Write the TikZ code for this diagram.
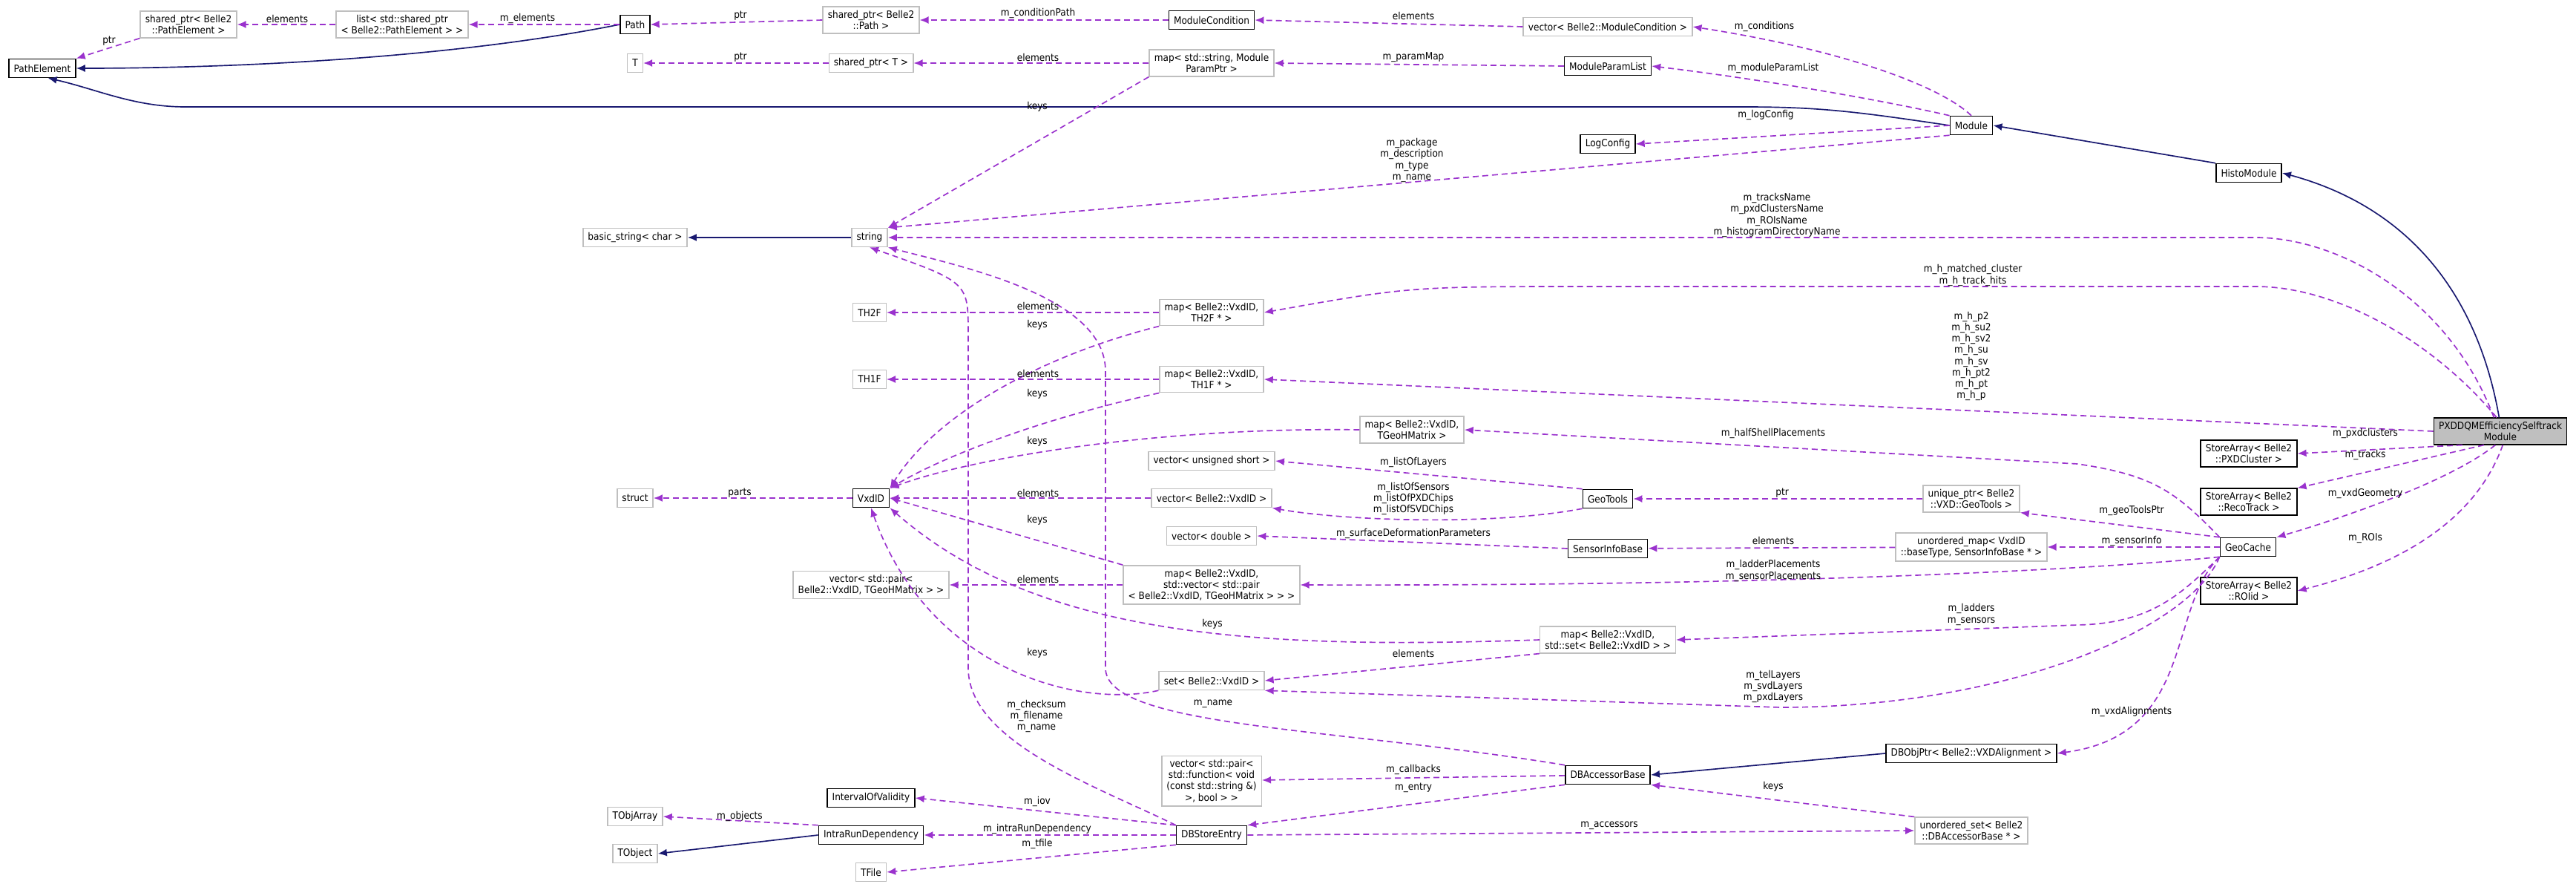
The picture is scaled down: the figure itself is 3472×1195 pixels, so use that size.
\documentclass[tikz,border=0pt]{standalone}
\usepackage{fontspec}
\setmainfont{DejaVu Sans Condensed}
\usepackage{tikz}
\usetikzlibrary{arrows.meta}
\definecolor{depcol}{RGB}{154,50,205}
\definecolor{inhcol}{RGB}{25,25,112}
\definecolor{extcol}{RGB}{191,191,191}
\tikzset{
cls/.style={draw=black, fill=white, line width=0.45mm, font=\fontsize{11.5}{13}\selectfont, align=center, inner xsep=2mm, inner ysep=1.5mm, minimum height=7.5mm},
ext/.style={cls, draw=extcol},
dep/.style={draw=depcol, line width=0.5mm, dash pattern=on 2.4mm off 1.5mm, -{Latex[length=3.6mm,width=3mm]}},
inh/.style={draw=inhcol, line width=0.5mm, -{Latex[length=3.6mm,width=3mm]}},
lbl/.style={font=\fontsize{11.5}{13}\selectfont, align=center, inner sep=0pt}
}

\begin{document}
\begin{tikzpicture}[x=0.3mm,y=-0.3mm]
\useasboundingbox (0,0) rectangle (3472,1195);

% classes
\node[cls] (pathelem) at (57,92) {PathElement};
\node[ext] (sppe) at (254,33) {shared\_ptr< Belle2\\::PathElement >};
\node[ext] (listpe) at (542,33) {list< std::shared\_ptr\\< Belle2::PathElement > >};
\node[cls] (path) at (856,33) {Path};
\node[ext] (tt) at (856,85) {T};
\node[ext] (basicstr) at (856,320) {basic\_string< char >};
\node[ext] (str) at (1172,320) {string};
\node[ext] (thtwo) at (1172,421) {TH2F};
\node[ext] (thone) at (1172,511) {TH1F};
\node[ext] (sppath) at (1174,27) {shared\_ptr< Belle2\\::Path >};
\node[ext] (spt) at (1174,85) {shared\_ptr< T >};
\node[cls] (modcond) at (1633,27) {ModuleCondition};
\node[ext] (vecmc) at (2167,36) {vector< Belle2::ModuleCondition >};
\node[ext] (mapparam) at (1633,85) {map< std::string, Module\\ParamPtr >};
\node[cls] (paramlist) at (2167,89) {ModuleParamList};
\node[cls] (logcfg) at (2167,194) {LogConfig};
\node[ext] (mapthtwo) at (1633,421) {map< Belle2::VxdID,\\TH2F * >};
\node[ext] (mapthone) at (1633,511) {map< Belle2::VxdID,\\TH1F * >};
\node[ext] (maptgeo) at (1903,579) {map< Belle2::VxdID,\\TGeoHMatrix >};
\node[cls] (module) at (2657,169) {Module};
\node[cls] (histo) at (3031,233) {HistoModule};
\node[cls, fill=extcol] (main) at (3370,581) {PXDDQMEfficiencySelftrack\\Module};
\node[cls] (sapxd) at (3031,611) {StoreArray< Belle2\\::PXDCluster >};
\node[cls] (sareco) at (3031,676) {StoreArray< Belle2\\::RecoTrack >};
\node[ext] (uptr) at (2657,672) {unique\_ptr< Belle2\\::VXD::GeoTools >};
\node[cls] (geocache) at (3030,737) {GeoCache};
\node[cls] (saroi) at (3031,796) {StoreArray< Belle2\\::ROIid >};
\node[ext] (umap) at (2657,737) {unordered\_map< VxdID\\::baseType, SensorInfoBase * >};
\node[cls] (dbobj) at (2657,1015) {DBObjPtr< Belle2::VXDAlignment >};
\node[ext] (uset) at (2657,1119) {unordered\_set< Belle2\\::DBAccessorBase * >};
\node[ext] (vecushort) at (1633,621) {vector< unsigned short >};
\node[ext] (vecvxd) at (1633,671) {vector< Belle2::VxdID >};
\node[cls] (geotools) at (2167,672) {GeoTools};
\node[ext] (vecdbl) at (1633,722) {vector< double >};
\node[cls] (sensinfo) at (2167,739) {SensorInfoBase};
\node[ext] (mapvec) at (1633,788) {map< Belle2::VxdID,\\std::vector< std::pair\\< Belle2::VxdID, TGeoHMatrix > > >};
\node[ext] (mapset) at (2167,862) {map< Belle2::VxdID,\\std::set< Belle2::VxdID > >};
\node[ext] (setvxd) at (1633,917) {set< Belle2::VxdID >};
\node[ext] (vecfunc) at (1633,1052) {vector< std::pair<\\std::function< void\\(const std::string \&)\\>, bool > >};
\node[cls] (dbacc) at (2167,1044) {DBAccessorBase};
\node[cls] (dbentry) at (1633,1125) {DBStoreEntry};
\node[cls] (iov) at (1174,1075) {IntervalOfValidity};
\node[cls] (intrarun) at (1174,1125) {IntraRunDependency};
\node[ext] (tfile) at (1174,1175) {TFile};
\node[ext] (structn) at (856,671) {struct};
\node[cls] (vxdid) at (1174,671) {VxdID};
\node[ext] (vecpair) at (1174,788) {vector< std::pair<\\Belle2::VxdID, TGeoHMatrix > >};
\node[ext] (tobjarr) at (856,1100) {TObjArray};
\node[ext] (tobj) at (856,1150) {TObject};

% inheritance
\draw[inh] (path.west) .. controls (600,80) and (300,92) .. (pathelem.east);
\draw[inh] (module.west) .. controls (2500,150) and (2450,144) .. (2350,144) -- (250,144) .. controls (180,144) and (130,120) .. (pathelem.-60);
\draw[inh] (str) -- (basicstr);
\draw[inh] (histo.north west) -- (module.east);
\draw[inh] (main.95) .. controls (3340,400) and (3250,280) .. (histo.east);
\draw[inh] (dbobj.west) -- (dbacc.east);
\draw[inh] (intrarun.west) -- (tobj.east);

% members
\draw[dep] (sppe.south west) -- (pathelem.north east);
\draw[dep] (listpe) -- (sppe);
\draw[dep] (path) -- (listpe);
\draw[dep] (sppath.west) -- (path.east);
\draw[dep] (spt) -- (tt);
\draw[dep] (modcond.west) -- (sppath.east);
\draw[dep] (vecmc.west) -- (modcond.east);
\draw[dep] (mapparam) -- (spt);
\draw[dep] (mapparam.south west) -- (str.north east);
\draw[dep] (paramlist.west) -- (mapparam.east);
\draw[dep] (module.north) .. controls (2620,120) and (2500,70) .. (vecmc.east);
\draw[dep] (module.north west) .. controls (2560,140) and (2400,110) .. (paramlist.east);
\draw[dep] (module.west) -- (logcfg.east);
\draw[dep] (module.south west) -- (str.north east);
\draw[dep] (main.115) .. controls (3300,400) and (3150,320) .. (3040,320) -- (str.east);
\draw[dep] (main.105) .. controls (3280,460) and (3150,386) .. (3040,386) -- (2150,386) .. controls (1900,386) .. (mapthtwo.east);
\draw[dep] (main.west) -- (mapthone.east);
\draw[dep] (main.200) -- (sapxd.east);
\draw[dep] (main.-140) -- (sareco.north east);
\draw[dep] (main.-110) .. controls (3300,650) and (3150,700) .. (geocache.north east);
\draw[dep] (main.-80) .. controls (3330,720) and (3200,770) .. (saroi.east);
\draw[dep] (mapthtwo) -- (thtwo);
\draw[dep] (mapthtwo.south west) .. controls (1400,480) and (1260,560) .. (vxdid.north east);
\draw[dep] (mapthone) -- (thone);
\draw[dep] (mapthone.south west) .. controls (1420,560) and (1280,610) .. (vxdid.north east);
\draw[dep] (maptgeo.west) .. controls (1550,575) and (1300,620) .. (vxdid.north east);
\draw[dep] (geocache.north west) .. controls (2930,660) and (2900,640) .. (2800,625) -- (maptgeo.east);
\draw[dep] (geocache.north west) -- (uptr.south east);
\draw[dep] (uptr) -- (geotools);
\draw[dep] (geotools.north west) -- (vecushort.east);
\draw[dep] (geotools.south west) .. controls (2000,710) and (1800,700) .. (vecvxd.south east);
\draw[dep] (vecvxd) -- (vxdid);
\draw[dep] (vxdid) -- (structn);
\draw[dep] (geocache) -- (umap);
\draw[dep] (umap) -- (sensinfo);
\draw[dep] (sensinfo.west) -- (vecdbl.east);
\draw[dep] (geocache.south west) .. controls (2900,760) and (2500,790) .. (mapvec.east);
\draw[dep] (mapvec) -- (vecpair);
\draw[dep] (mapvec.north west) -- (vxdid.east);
\draw[dep] (geocache.south west) .. controls (2940,800) and (2900,840) .. (2800,842) -- (mapset.east);
\draw[dep] (mapset.west) .. controls (1700,875) and (1400,860) .. (vxdid.south east);
\draw[dep] (mapset.south west) -- (setvxd.east);
\draw[dep] (setvxd.south west) .. controls (1450,955) and (1250,900) .. (vxdid.south);
\draw[dep] (geocache.south west) .. controls (2950,850) and (2700,953) .. (2400,953) -- (setvxd.south east);
\draw[dep] (geocache.south west) .. controls (2920,820) and (2960,990) .. (dbobj.east);
\draw[dep] (dbacc.north west) .. controls (1800,980) and (1490,980) .. (1490,900) -- (1490,500) .. controls (1490,400) and (1300,360) .. (str.south east);
\draw[dep] (dbentry.north west) .. controls (1480,1060) and (1305,1000) .. (1305,900) -- (1305,450) .. controls (1305,380) .. (str.south);
\draw[dep] (dbacc) -- (vecfunc);
\draw[dep] (dbacc.south west) -- (dbentry.north east);
\draw[dep] (uset.north west) -- (dbacc.south east);
\draw[dep] (dbentry.east) -- (uset.west);
\draw[dep] (dbentry.north west) -- (iov.east);
\draw[dep] (dbentry) -- (intrarun);
\draw[dep] (dbentry.south west) -- (tfile.east);
\draw[dep] (intrarun.north west) -- (tobjarr.east);

% labels
\node[lbl] at (147,55) {ptr};
\node[lbl] at (387,25) {elements};
\node[lbl] at (711,25) {m\_elements};
\node[lbl] at (998,21) {ptr};
\node[lbl] at (998,77) {ptr};
\node[lbl] at (1399,18) {m\_conditionPath};
\node[lbl] at (1905,21) {elements};
\node[lbl] at (1399,77) {elements};
\node[lbl] at (1905,77) {m\_paramMap};
\node[lbl] at (1398,144) {keys};
\node[lbl] at (2378,36) {m\_conditions};
\node[lbl] at (2390,92) {m\_moduleParamList};
\node[lbl] at (2380,155) {m\_logConfig};
\node[lbl] at (1903,216) {m\_package\\m\_description\\m\_type\\m\_name};
\node[lbl] at (2395,290) {m\_tracksName\\m\_pxdClustersName\\m\_ROIsName\\m\_histogramDirectoryName};
\node[lbl] at (2659,371) {m\_h\_matched\_cluster\\m\_h\_track\_hits};
\node[lbl] at (2657,480) {m\_h\_p2\\m\_h\_su2\\m\_h\_sv2\\m\_h\_su\\m\_h\_sv\\m\_h\_pt2\\m\_h\_pt\\m\_h\_p};
\node[lbl] at (1399,412) {elements};
\node[lbl] at (1398,438) {keys};
\node[lbl] at (1399,503) {elements};
\node[lbl] at (1398,531) {keys};
\node[lbl] at (1398,595) {keys};
\node[lbl] at (2390,584) {m\_halfShellPlacements};
\node[lbl] at (3188,584) {m\_pxdclusters};
\node[lbl] at (3188,613) {m\_tracks};
\node[lbl] at (3188,665) {m\_vxdGeometry};
\node[lbl] at (3188,725) {m\_ROIs};
\node[lbl] at (2402,664) {ptr};
\node[lbl] at (2873,688) {m\_geoToolsPtr};
\node[lbl] at (2873,729) {m\_sensorInfo};
\node[lbl] at (2390,728) {elements};
\node[lbl] at (2390,769) {m\_ladderPlacements\\m\_sensorPlacements};
\node[lbl] at (2657,828) {m\_ladders\\m\_sensors};
\node[lbl] at (2390,925) {m\_telLayers\\m\_svdLayers\\m\_pxdLayers};
\node[lbl] at (2873,959) {m\_vxdAlignments};
\node[lbl] at (2390,1060) {keys};
\node[lbl] at (1905,623) {m\_listOfLayers};
\node[lbl] at (1905,672) {m\_listOfSensors\\m\_listOfPXDChips\\m\_listOfSVDChips};
\node[lbl] at (1399,664) {elements};
\node[lbl] at (1398,701) {keys};
\node[lbl] at (1905,719) {m\_surfaceDeformationParameters};
\node[lbl] at (1399,780) {elements};
\node[lbl] at (1634,841) {keys};
\node[lbl] at (1905,880) {elements};
\node[lbl] at (1398,880) {keys};
\node[lbl] at (1635,948) {m\_name};
\node[lbl] at (1397,965) {m\_checksum\\m\_filename\\m\_name};
\node[lbl] at (1905,1037) {m\_callbacks};
\node[lbl] at (1905,1061) {m\_entry};
\node[lbl] at (1398,1080) {m\_iov};
\node[lbl] at (1398,1117) {m\_intraRunDependency};
\node[lbl] at (1398,1137) {m\_tfile};
\node[lbl] at (2169,1112) {m\_accessors};
\node[lbl] at (997,1100) {m\_objects};
\node[lbl] at (997,664) {parts};
\end{tikzpicture}
\end{document}
